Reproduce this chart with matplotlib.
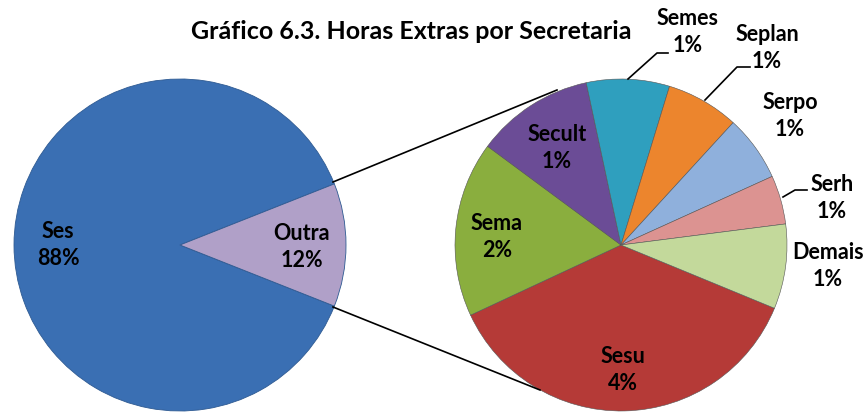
import matplotlib
matplotlib.use('Agg')
import matplotlib.pyplot as plt

plt.rcParams['font.family'] = ['Lato', 'DejaVu Sans']

# Data (share of overtime hours, % of total)
main_labels = ['Ses', 'Outra']
main_values = [88, 12]

sub_labels = ['Sesu', 'Sema', 'Secult', 'Semes', 'Seplan', 'Serpo', 'Serh', 'Demais']
sub_values = [4.42, 2.05, 1.38, 0.97, 0.85, 0.77, 0.57, 0.99]

main_colors = ['#3A6FB3', '#B0A0C8']
sub_colors = ['#B53A37', '#8AAE3E', '#6B4C96', '#2F9FBE', '#EC852D',
              '#8FB0DC', '#DC9391', '#C3D99B']

W, H = 867, 412
fig = plt.figure(figsize=(W / 100, H / 100), dpi=100)
ax = fig.add_axes([0, 0, 1, 1])

def py(y):
    # pixel row (from top) -> data y
    return H - y

c1 = (180, py(245))
r1 = 166
c2 = (621, py(245))
r2 = 166

half = main_values[1] / sum(main_values) * 180
ax.pie(main_values, colors=main_colors, center=c1, radius=r1,
       startangle=half, counterclock=True,
       wedgeprops=dict(edgecolor='#2E5A92', linewidth=0.6))
ax.pie(sub_values, colors=sub_colors, center=c2, radius=r2,
       startangle=-22.4, counterclock=False,
       wedgeprops=dict(edgecolor='#555555', linewidth=0.4))

# connector lines between the two pies
ax.plot([333, 557], [py(182), py(90)], color='black', lw=1.2)
ax.plot([333, 540], [py(307), py(390)], color='black', lw=1.2)

lab_kw = dict(ha='center', va='center', fontsize=15.5, fontweight='bold',
              linespacing=1.3)

def pct(v):
    return '%d%%' % round(v)

main_pos = [(58, 245), (302, 247)]
for lab, v, (x, y) in zip(main_labels, main_values, main_pos):
    ax.text(x, py(y), lab + '\n' + pct(v), **lab_kw)

sub_pos = [(623, 370), (497, 237), (557, 148), (688, 32), (767, 48),
           (790, 116), (832, 198), (828, 266)]
for lab, v, (x, y) in zip(sub_labels, sub_values, sub_pos):
    ax.text(x, py(y), lab + '\n' + pct(v), **lab_kw)

# leader lines for outside labels
ax.plot([628, 657, 668], [py(79), py(53), py(53)], color='black', lw=1.2)
ax.plot([705, 737, 750], [py(100), py(67), py(67)], color='black', lw=1.2)
ax.plot([783, 795, 807], [py(197), py(190), py(190)], color='black', lw=1.2)

ax.text(411, py(31), 'Gráfico 6.3. Horas Extras por Secretaria',
        ha='center', va='center', fontsize=18, fontweight='bold')

ax.set_xlim(0, W)
ax.set_ylim(0, H)
ax.set_aspect('equal')
ax.axis('off')

fig.savefig('out.png', dpi=100)
